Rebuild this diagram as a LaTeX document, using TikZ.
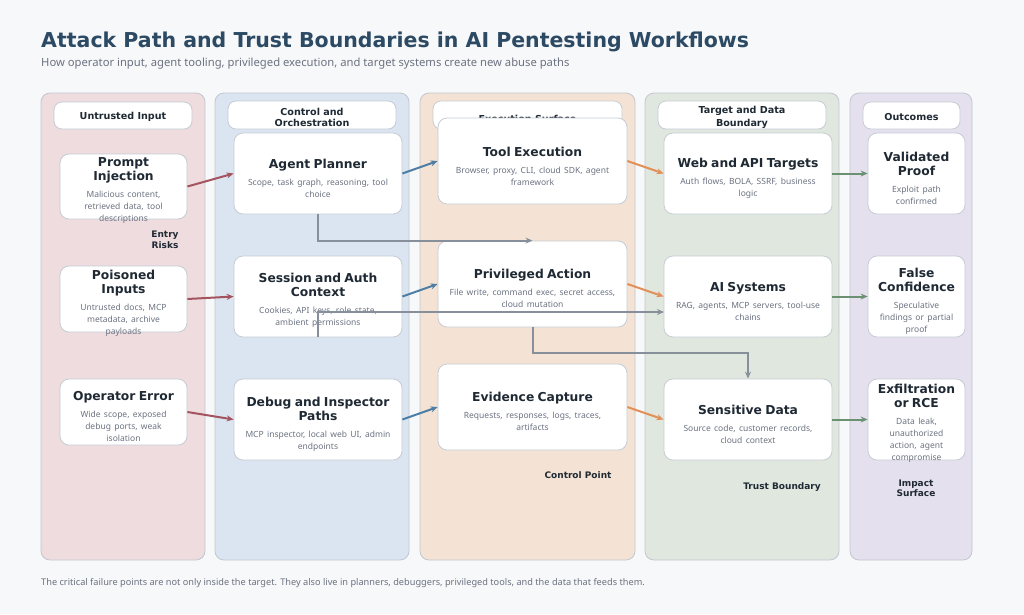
\documentclass[tikz,border=0pt]{standalone}
\usepackage{fontspec}
\setmainfont{Noto Sans}
\newfontfamily\dejavu{DejaVu Sans}
\usetikzlibrary{arrows.meta}

\definecolor{pagebg}{HTML}{F7F8FA}
\definecolor{titleblue}{HTML}{2C4A64}
\definecolor{inkdark}{HTML}{1F2933}
\definecolor{inkgray}{HTML}{6B7280}
\definecolor{laneline}{HTML}{C2C6CF}
\definecolor{cardline}{HTML}{C6CCD4}
\definecolor{lanepink}{HTML}{EEDCDF}
\definecolor{laneblue}{HTML}{DAE5F1}
\definecolor{lanepeach}{HTML}{F4E3D4}
\definecolor{lanegreen}{HTML}{DFE7DF}
\definecolor{lanelilac}{HTML}{E5E0EE}
\definecolor{arrowred}{HTML}{A3545E}
\definecolor{arrowblue}{HTML}{4E7EA6}
\definecolor{arroworange}{HTML}{E09058}
\definecolor{arrowgreen}{HTML}{6A9272}
\definecolor{arrowgrey}{HTML}{87909A}

\newcommand{\cardtext}[2]{{\dejavu\bfseries\fontsize{12.3}{14}\selectfont\color{inkdark}#1\par}\vspace{5pt}{\fontsize{8.5}{12}\selectfont\color{inkgray}#2\par}}
\newcommand{\headdrop}[2]{\raisebox{-#1}[\height][\depth]{#2}}

\tikzset{
  lane/.style={draw=laneline, line width=0.8pt, rounded corners=9pt},
  lanehead/.style={draw=cardline, fill=white, rounded corners=8pt, line width=0.8pt, inner sep=0pt,
    font=\dejavu\bfseries\fontsize{9.6}{11}\selectfont, text=inkdark, align=center},
  card/.style={draw=cardline, fill=white, rounded corners=9pt, line width=0.8pt, inner sep=0pt},
  cardtxt/.style={align=center, inner sep=0pt},
  lanenote/.style={font=\dejavu\bfseries\fontsize{9}{10.5}\selectfont, text=inkdark, align=center},
  flow/.style={line width=2pt, -{Stealth[length=7pt,width=6pt]}},
}

\begin{document}
\begin{tikzpicture}[x=1pt,y=-1pt]
        \fill[pagebg] (0,0) rectangle (1024,614);
        \useasboundingbox (0,0) rectangle (1024,614);

        % heading
        \node[anchor=base west, inner sep=0pt, text=titleblue, font=\dejavu\bfseries\fontsize{20.5}{24}\selectfont] (title) at (41,47.5) {Attack Path and Trust Boundaries in AI Pentesting Workflows};
        \node[anchor=base west, inner sep=0pt, text=inkgray, font=\fontsize{11.25}{13}\selectfont] (subtitle) at (41,66) {How operator input, agent tooling, privileged execution, and target systems create new abuse paths};

        % lanes
        \draw[lane, fill=lanepink] (41,93) rectangle (205,560);
        \draw[lane, fill=laneblue] (215,93) rectangle (409,560);
        \draw[lane, fill=lanepeach] (420,93) rectangle (635,560);
        \draw[lane, fill=lanegreen] (645,93) rectangle (839,560);
        \draw[lane, fill=lanelilac] (850,93) rectangle (972,560);

        \node[lanehead, minimum width=138pt, minimum height=27pt] (untrusted) at (123,115.5) {\headdrop{1pt}{Untrusted Input}};
        \node[lanehead, minimum width=168pt, minimum height=28pt] (control) at (312,115) {\headdrop{2.5pt}{\shortstack{Control and\\Orchestration}}};
        \node[lanehead, minimum width=189pt, minimum height=28pt] (execution) at (527.5,115) {\headdrop{4pt}{Execution Surface}};
        \node[lanehead, minimum width=168pt, minimum height=28pt] (target) at (742,115) {\headdrop{2.5pt}{\shortstack{Target and Data\\Boundary}}};
        \node[lanehead, minimum width=97pt, minimum height=27pt] (outcomes) at (911.5,115.5) {\headdrop{1pt}{Outcomes}};

        % entry risks
        \node[card, minimum width=127pt, minimum height=65pt] (prompt) at (123.5,186.5) {};
        \node[cardtxt, text width=125pt] (prompttxt) at ([yshift=-4.5pt]prompt.center) {\cardtext{Prompt\\Injection}{Malicious content,\\retrieved data, tool\\descriptions}};
        \node[card, minimum width=127pt, minimum height=66pt] (poisoned) at (123.5,299) {};
        \node[cardtxt, text width=125pt] (poisonedtxt) at ([yshift=-4.5pt]poisoned.center) {\cardtext{Poisoned\\Inputs}{Untrusted docs, MCP\\metadata, archive\\payloads}};
        \node[card, minimum width=127pt, minimum height=66pt] (operator) at (123.5,412) {};
        \node[cardtxt, text width=125pt] (operatortxt) at ([yshift=-4.5pt]operator.center) {\cardtext{Operator Error}{Wide scope, exposed\\debug ports, weak\\isolation}};

        % control and orchestration
        \node[card, minimum width=168pt, minimum height=81pt] (planner) at (318,173.5) {};
        \node[cardtxt, text width=160pt] (plannertxt) at ([yshift=-4.5pt]planner.center) {\cardtext{Agent Planner}{Scope, task graph, reasoning, tool\\choice}};
        \node[card, minimum width=168pt, minimum height=81pt] (session) at (318,296.5) {};
        \node[cardtxt, text width=160pt] (sessiontxt) at ([yshift=-3.5pt]session.center) {\cardtext{Session and Auth\\Context}{Cookies, API keys, role state,\\ambient permissions}};
        \node[card, minimum width=168pt, minimum height=81pt] (debug) at (318,419.5) {};
        \node[cardtxt, text width=160pt] (debugtxt) at ([yshift=-4.5pt]debug.center) {\cardtext{Debug and Inspector\\Paths}{MCP inspector, local web UI, admin\\endpoints}};

        % execution surface
        \node[card, minimum width=189pt, minimum height=86pt] (tool) at (532.5,161) {};
        \node[cardtxt, text width=180pt] (tooltxt) at ([yshift=-5pt]tool.center) {\cardtext{Tool Execution}{Browser, proxy, CLI, cloud SDK, agent\\framework}};
        \node[card, minimum width=189pt, minimum height=86pt] (priv) at (532.5,284) {};
        \node[cardtxt, text width=180pt] (privtxt) at ([yshift=-4.5pt]priv.center) {\cardtext{Privileged Action}{File write, command exec, secret access,\\cloud mutation}};
        \node[card, minimum width=189pt, minimum height=86pt] (evidence) at (532.5,407) {};
        \node[cardtxt, text width=180pt] (evidencetxt) at ([yshift=-4.5pt]evidence.center) {\cardtext{Evidence Capture}{Requests, responses, logs, traces,\\artifacts}};

        % target and data boundary
        \node[card, minimum width=168pt, minimum height=81pt] (web) at (748,173.5) {};
        \node[cardtxt, text width=160pt] (webtxt) at ([yshift=-4.5pt]web.center) {\cardtext{Web and API Targets}{Auth flows, BOLA, SSRF, business\\logic}};
        \node[card, minimum width=168pt, minimum height=81pt] (ai) at (748,296.5) {};
        \node[cardtxt, text width=160pt] (aitxt) at ([yshift=-4.5pt]ai.center) {\cardtext{AI Systems}{RAG, agents, MCP servers, tool-use\\chains}};
        \node[card, minimum width=168pt, minimum height=81pt] (sens) at (748,419.5) {};
        \node[cardtxt, text width=160pt] (senstxt) at ([yshift=-4.5pt]sens.center) {\cardtext{Sensitive Data}{Source code, customer records,\\cloud context}};

        % outcomes
        \node[card, minimum width=97pt, minimum height=81pt] (proof) at (916.5,173.5) {};
        \node[cardtxt, text width=95pt] (prooftxt) at ([yshift=-4.5pt]proof.center) {\cardtext{Validated\\Proof}{Exploit path\\confirmed}};
        \node[card, minimum width=97pt, minimum height=81pt] (falseconf) at (916.5,296.5) {};
        \node[cardtxt, text width=95pt] (falseconftxt) at ([yshift=-4.5pt]falseconf.center) {\cardtext{False\\Confidence}{Speculative\\findings or partial\\proof}};
        \node[card, minimum width=97pt, minimum height=81pt] (exfil) at (916.5,419.5) {};
        \node[cardtxt, text width=95pt] (exfiltxt) at ([yshift=-3.5pt]exfil.center) {\cardtext{Exfiltration\\or RCE}{Data leak,\\unauthorized\\action, agent\\compromise}};

        % lane notes
        \node[lanenote] (entrynote) at (165,240) {Entry\\Risks};
        \node[lanenote] (controlnote) at (578,475) {Control Point};
        \node[lanenote] (trustnote) at (782,487) {Trust Boundary};
        \node[lanenote] (impactnote) at (916,488.5) {Impact\\Surface};

        % main flows
        \draw[flow, arrowred] (prompt.east) -- (planner.west);
        \draw[flow, arrowred] (poisoned.east) -- (session.west);
        \draw[flow, arrowred] (operator.east) -- (debug.west);

        \draw[flow, arrowblue] (planner.east) -- (tool.west);
        \draw[flow, arrowblue] (session.east) -- (priv.west);
        \draw[flow, arrowblue] (debug.east) -- (evidence.west);

        \draw[flow, arroworange] (tool.east) -- (web.west);
        \draw[flow, arroworange] (priv.east) -- (ai.west);
        \draw[flow, arroworange] (evidence.east) -- (sens.west);

        \draw[flow, arrowgreen] (web.east) -- (proof.west);
        \draw[flow, arrowgreen] (ai.east) -- (falseconf.west);
        \draw[flow, arrowgreen] (sens.east) -- (exfil.west);

        % cross-lane paths
        \coordinate (aiside) at (664,312);
        \draw[flow, arrowgrey] (planner.south) |- (priv.north);
        \draw[flow, arrowgrey] (session.south) |- (aiside);
        \draw[flow, arrowgrey] (priv.south) -- ++(0,26) -| (sens.north);

        % footer
        \node[anchor=base west, inner sep=0pt, text=inkgray, font=\fontsize{9.2}{11}\selectfont] (footer) at (41,585) {The critical failure points are not only inside the target. They also live in planners, debuggers, privileged tools, and the data that feeds them.};
\end{tikzpicture}
\end{document}
